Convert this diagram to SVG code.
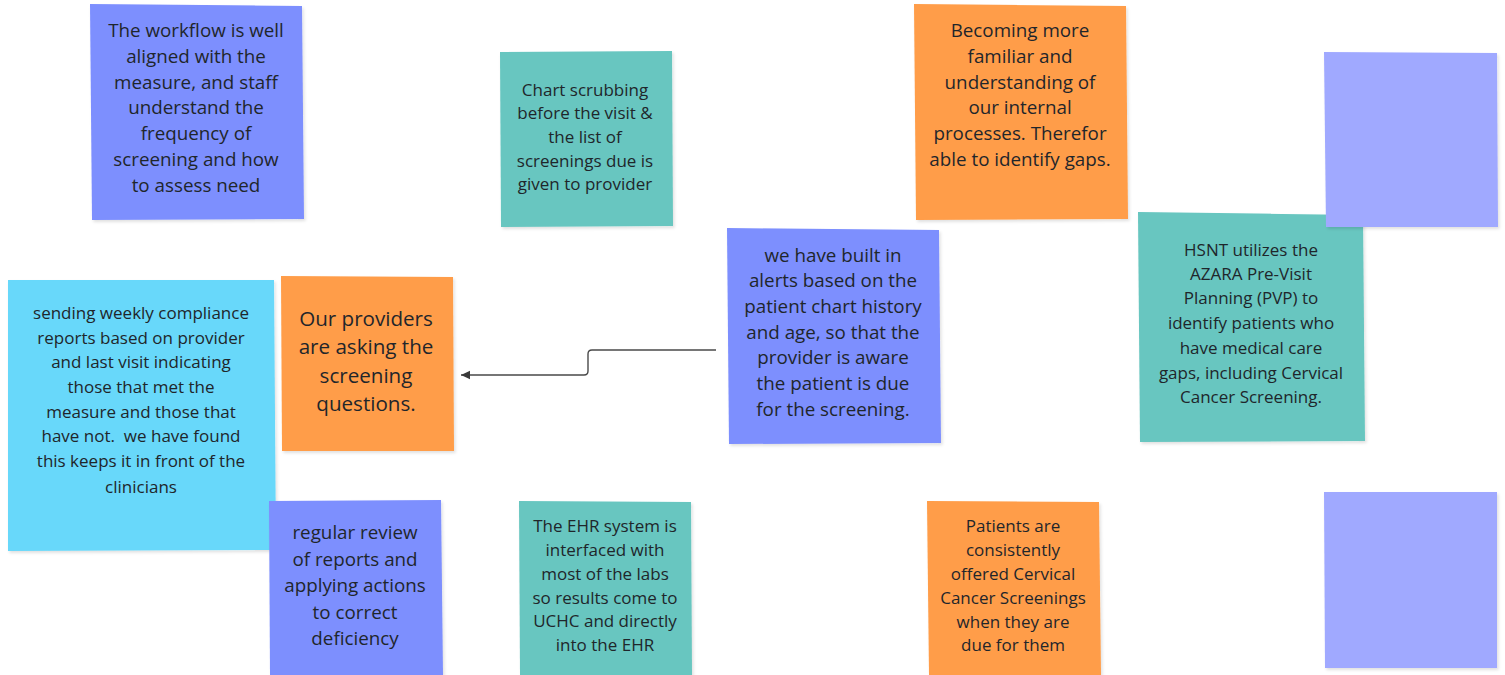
<svg xmlns="http://www.w3.org/2000/svg" width="1505" height="675" viewBox="0 0 1505 675">
<defs>
<filter id="sh" x="-10%" y="-10%" width="130%" height="130%">
<feDropShadow dx="1.5" dy="2" stdDeviation="1.5" flood-color="#000" flood-opacity="0.12"/>
</filter>
<marker id="arr" markerWidth="10" markerHeight="10" refX="9" refY="5" orient="auto" markerUnits="userSpaceOnUse">
<path d="M0,0.8 L9,5 L0,9.2 Z" fill="#3a3a3a"/>
</marker>
</defs>
<style>
.note{filter:url(#sh)}
.blue{fill:#7d8ffe}
.lav{fill:#a0a9ff}
.teal{fill:#67c6c0}
.orange{fill:#ff9d48}
.cyan{fill:#68d8fa}
text{font-family:"Open Sans","Noto Sans",sans-serif;fill:#1f262b;text-anchor:middle}
.f16{font-size:17px}
.f18{font-size:18.8px}
.f20{font-size:20.6px}
.conn{fill:none;stroke:#4a4a4a;stroke-width:1.4}
</style>
<rect width="1505" height="675" fill="#ffffff"/>

<g id="n-workflow">
<polygon class="note blue" points="90,4 302,6 304,219 92,220"/>
<text class="f18"><tspan x="196" y="37">The workflow is well</tspan><tspan x="196" y="63">aligned with the</tspan><tspan x="196" y="89">measure, and staff</tspan><tspan x="196" y="114">understand the</tspan><tspan x="196" y="140">frequency of</tspan><tspan x="196" y="166">screening and how</tspan><tspan x="196" y="192">to assess need</tspan></text>
</g>

<g id="n-chart">
<polygon class="note teal" points="500,52 672,51 673,226 501,227"/>
<text class="f16"><tspan x="585" y="96">Chart scrubbing</tspan><tspan x="585" y="119">before the visit &amp;</tspan><tspan x="585" y="143">the list of</tspan><tspan x="585" y="167">screenings due is</tspan><tspan x="585" y="190">given to provider</tspan></text>
</g>

<g id="n-becoming">
<polygon class="note orange" points="914,4 1126,6 1128,219 916,220"/>
<text class="f18"><tspan x="1020" y="37">Becoming more</tspan><tspan x="1020" y="63">familiar and</tspan><tspan x="1020" y="89">understanding of</tspan><tspan x="1020" y="114">our internal</tspan><tspan x="1020" y="140">processes. Therefor</tspan><tspan x="1020" y="166">able to identify gaps.</tspan></text>
</g>

<g id="n-hsnt">
<polygon class="note teal" points="1138,212 1363,215 1365,441 1140,442"/>
<text class="f16"><tspan x="1251" y="256">HSNT utilizes the</tspan><tspan x="1251" y="280">AZARA Pre-Visit</tspan><tspan x="1251" y="304">Planning (PVP) to</tspan><tspan x="1251" y="329">identify patients who</tspan><tspan x="1251" y="354">have medical care</tspan><tspan x="1251" y="379">gaps, including Cervical</tspan><tspan x="1251" y="403">Cancer Screening.</tspan></text>
</g>

<g id="n-blank-top">
<polygon class="note lav" points="1324,52 1497,53 1498,227 1326,227"/>
</g>

<g id="n-alerts">
<polygon class="note blue" points="727,228 939,230 941,443 729,444"/>
<text class="f18"><tspan x="833" y="262">we have built in</tspan><tspan x="833" y="287">alerts based on the</tspan><tspan x="833" y="313">patient chart history</tspan><tspan x="833" y="339">and age, so that the</tspan><tspan x="833" y="364">provider is aware</tspan><tspan x="833" y="390">the patient is due</tspan><tspan x="833" y="416">for the screening.</tspan></text>
</g>

<g id="n-providers">
<polygon class="note orange" points="281,276 453,277 454,451 282,451"/>
<text class="f20"><tspan x="366" y="326">Our providers</tspan><tspan x="366" y="354">are asking the</tspan><tspan x="366" y="383">screening</tspan><tspan x="366" y="411">questions.</tspan></text>
</g>

<g id="n-sending">
<polygon class="note cyan" points="8,280 274,280 276,550 8,551"/>
<text class="f16"><tspan x="141" y="319">sending weekly compliance</tspan><tspan x="141" y="344">reports based on provider</tspan><tspan x="141" y="368">and last visit indicating</tspan><tspan x="141" y="393">those that met the</tspan><tspan x="141" y="418">measure and those that</tspan><tspan x="141" y="442" xml:space="preserve">have not.  we have found</tspan><tspan x="141" y="467">this keeps it in front of the</tspan><tspan x="141" y="493">clinicians</tspan></text>
</g>

<g id="n-regular">
<polygon class="note blue" points="269,501 441,500 443,675 270,675"/>
<text class="f18"><tspan x="355" y="539">regular review</tspan><tspan x="355" y="566">of reports and</tspan><tspan x="355" y="592">applying actions</tspan><tspan x="355" y="619">to correct</tspan><tspan x="355" y="645">deficiency</tspan></text>
</g>

<g id="n-ehr">
<polygon class="note teal" points="519,501 691,502 692,675 520,675"/>
<text class="f16"><tspan x="605" y="532">The EHR system is</tspan><tspan x="605" y="556">interfaced with</tspan><tspan x="605" y="580">most of the labs</tspan><tspan x="605" y="604">so results come to</tspan><tspan x="605" y="627">UCHC and directly</tspan><tspan x="605" y="651">into the EHR</tspan></text>
</g>

<g id="n-patients">
<polygon class="note orange" points="927,501 1099,502 1101,675 929,675"/>
<text class="f16"><tspan x="1013" y="532">Patients are</tspan><tspan x="1013" y="556">consistently</tspan><tspan x="1013" y="580">offered Cervical</tspan><tspan x="1013" y="604">Cancer Screenings</tspan><tspan x="1013" y="628">when they are</tspan><tspan x="1013" y="651">due for them</tspan></text>
</g>

<g id="n-blank-bottom">
<polygon class="note lav" points="1324,492 1497,492 1497,668 1325,668"/>
</g>

<g id="connectors">
<path class="conn" d="M716,350 L592,350 Q588,350 588,354 L588,371 Q588,375 584,375 L461,375" marker-end="url(#arr)"/>
</g>
</svg>
